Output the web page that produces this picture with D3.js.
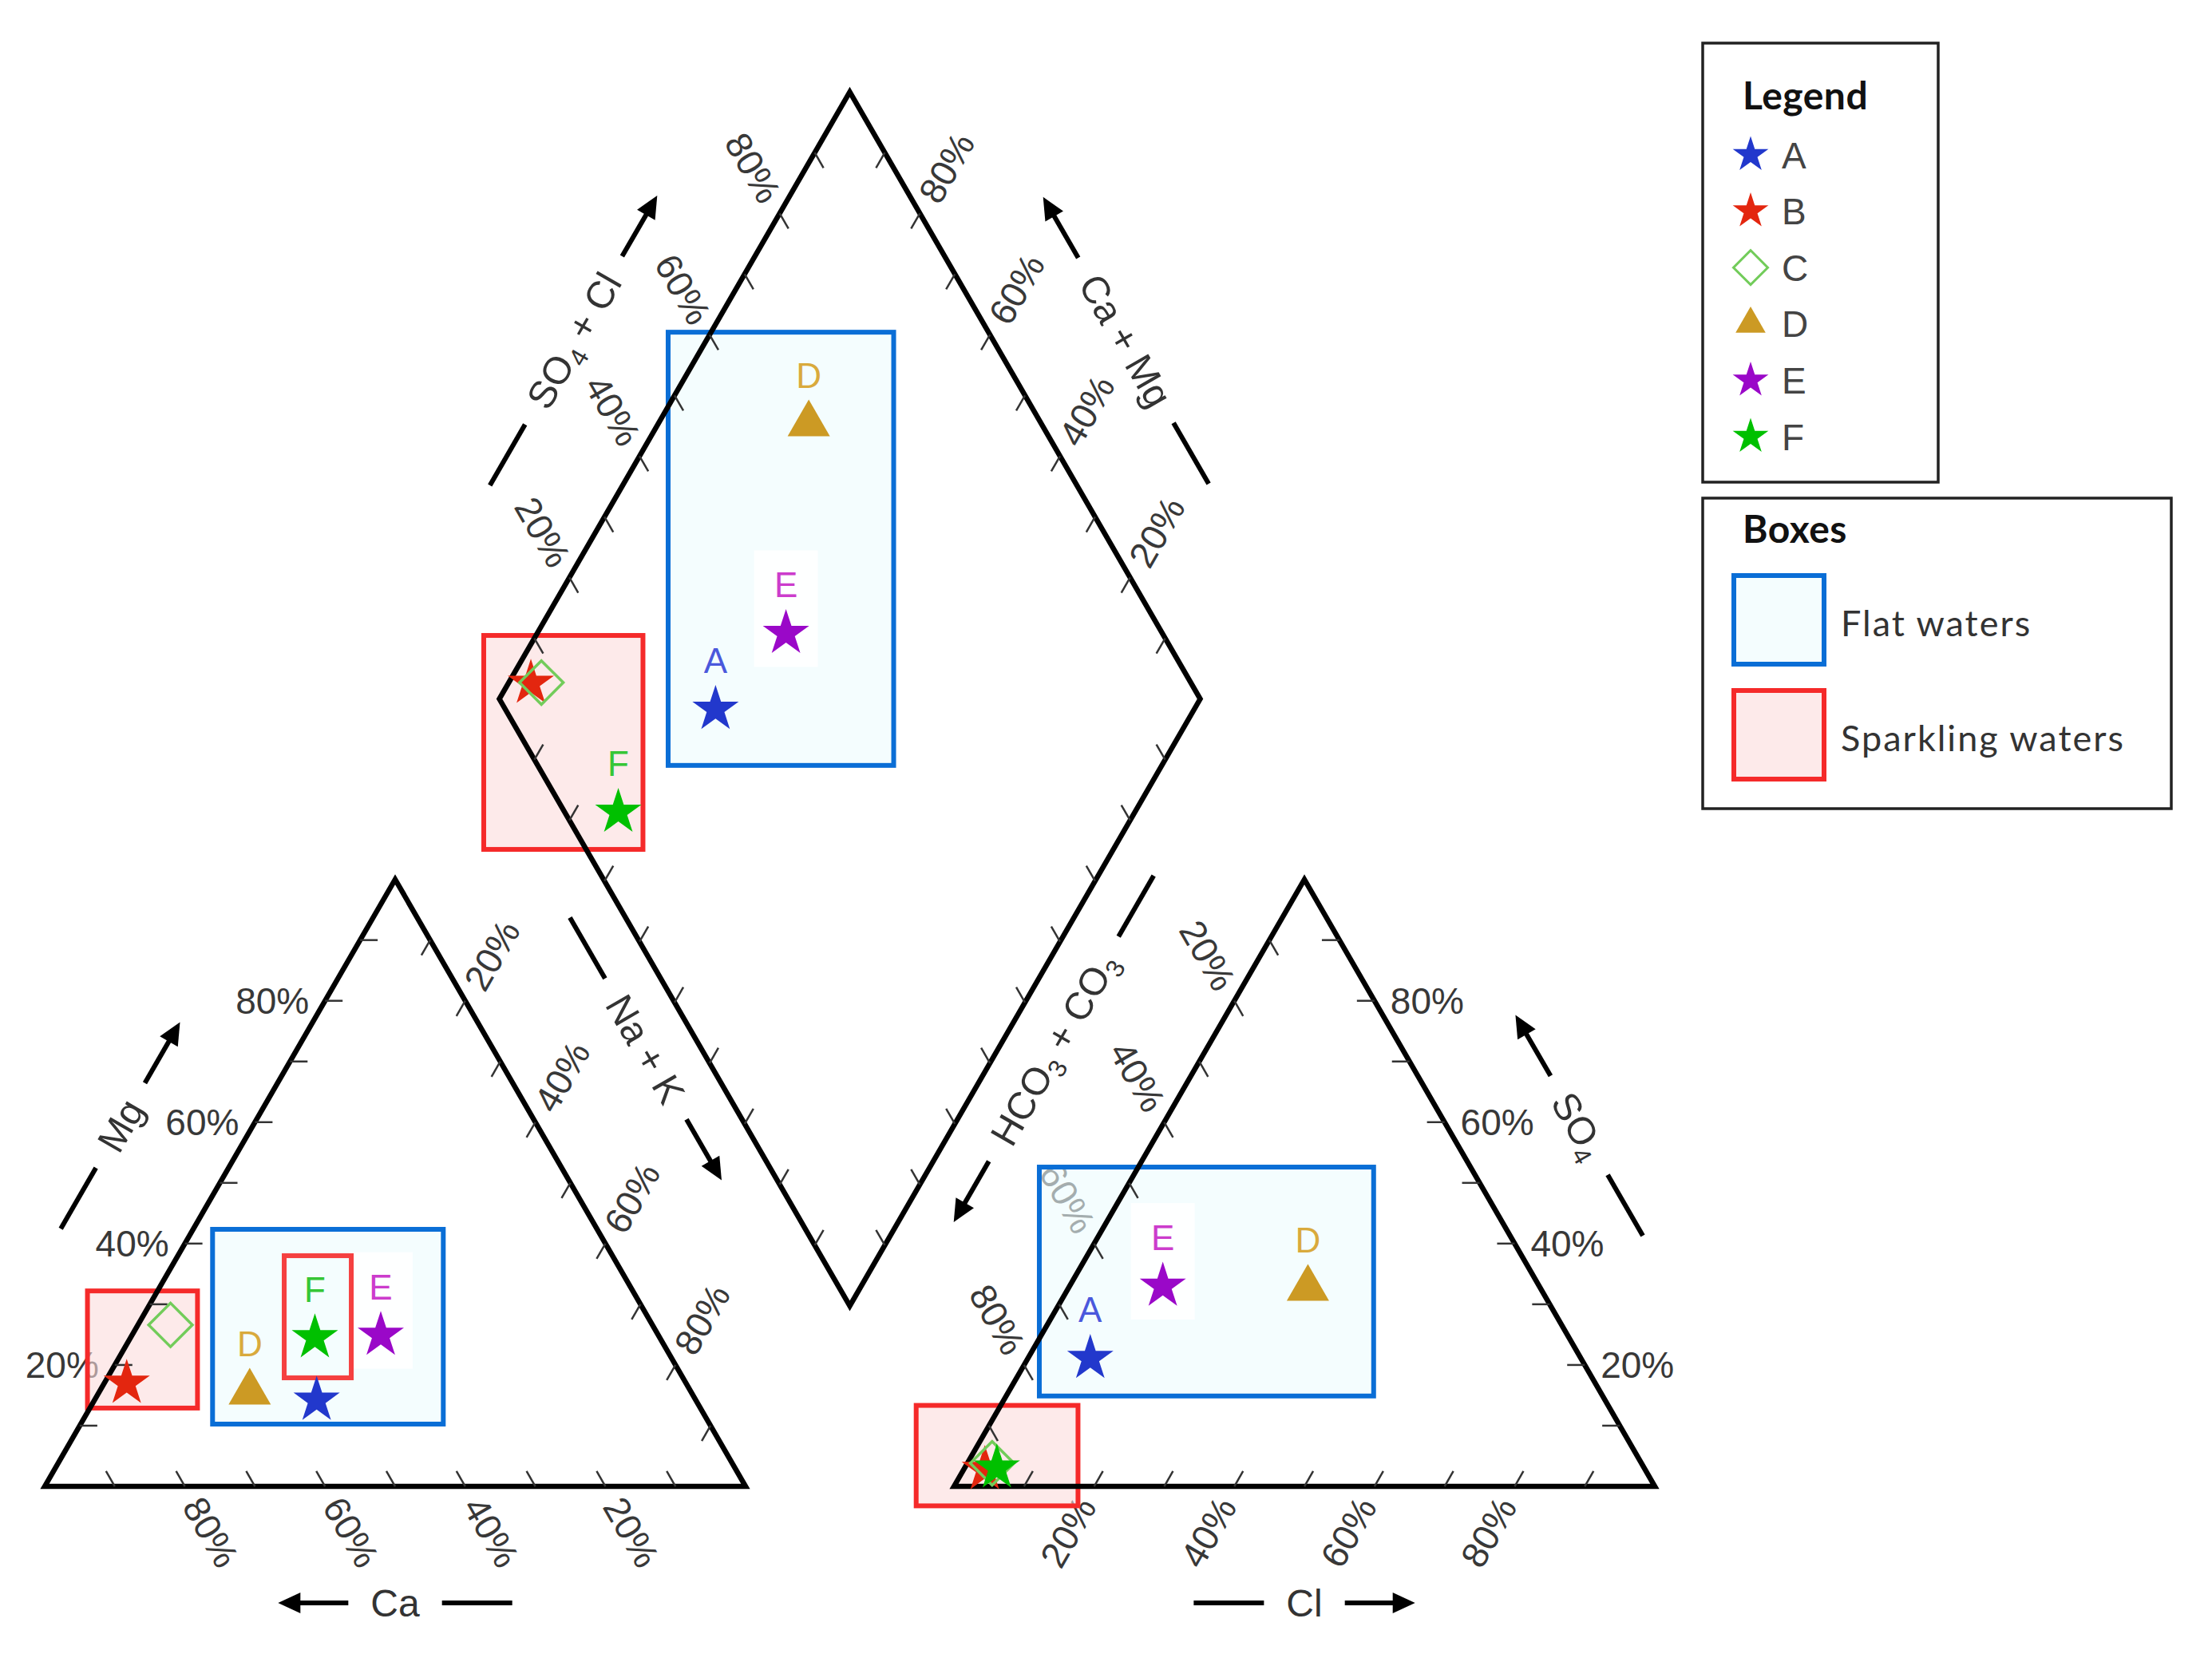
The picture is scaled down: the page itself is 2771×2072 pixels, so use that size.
<!DOCTYPE html>
<html><head><meta charset="utf-8">
<script src="https://cdn.jsdelivr.net/npm/d3@7"></script>
<style>html,body{margin:0;padding:0;background:#fff}</style>
</head><body>
<svg id="chart" width="2771" height="2072"></svg>
<script>
// ---------------- DATA ----------------
const samples = ["A", "B", "C", "D", "E", "F"];
// cations (% meq)
const ca  = [54.1, 79.8, 68.75, 63.0, 39.6, 49.2];
const mg  = [14.2, 17.0, 26.6, 15.5, 24.9, 24.5];
const nak = [31.7, 3.2, 4.65, 21.5, 35.5, 26.3];
// anions (% meq)
const hco3 = [70.0, 94.2, 92.65, 33.2, 53.7, 92.35];
const so4  = [21.1, 2.8, 3.8, 32.6, 33.0, 3.05];
const cl   = [8.9, 3.0, 3.55, 34.2, 13.3, 4.6];
// which samples carry a letter label in each plot
const labelsCation  = ["D", "E", "F"];
const labelsDiamond = ["A", "D", "E", "F"];
const labelsAnion   = ["A", "D", "E"];
// axis ticks
const tickValues  = [10, 20, 30, 40, 50, 60, 70, 80, 90];
const labelValues = [20, 40, 60, 80];
// grouping boxes: [uLeft, uRight, vBottom, vTop] in plot units, kind
const boxU0   = [0.2395, 0.061, 0.3417, 0.8895, 0.6264, 1.4191, 1.2434];
const boxU1   = [0.5687, 0.218, 0.4374, 1.2113, 0.8536, 1.8961, 1.4743];
const boxV0   = [0.1026, 0.129, 0.1788, 1.1878, 1.0494, 0.1489, -0.0321];
const boxV1   = [0.4235, 0.322, 0.3800, 1.9015, 1.4019, 0.5260, 0.1334];
const boxKind = ["flat", "sparkling", "outline", "flat", "sparkling", "flat", "sparkling"];
const legendBoxNames = ["Flat waters", "Sparkling waters"];

// ---------------- STYLE ----------------
const style = {
  A: {shape: "star", color: "#2238cc", label: "#4a58dc"},
  B: {shape: "star", color: "#e3260f", label: "#e3260f"},
  C: {shape: "diamond", color: "#72cc5a", label: "#72cc5a"},
  D: {shape: "triangle", color: "#cc9a24", label: "#d9aa3c"},
  E: {shape: "star", color: "#9a08c8", label: "#cc3ccc"},
  F: {shape: "star", color: "#00c000", label: "#36c636"}
};
const boxStyle = {
  flat: {stroke: "#0a6ed6", fill: "#edfbfd", op: 0.6},
  sparkling: {stroke: "#f52a2a", fill: "#fcdcdc", op: 0.6},
  outline: {stroke: "#f54040", fill: "none", op: 0}
};
const FONT = "'Liberation Sans', Arial, Helvetica, sans-serif";
const LFONT = "Lato, 'Open Sans', sans-serif";

// ---------------- GEOMETRY ----------------
const SQ3 = Math.sqrt(3);
const L = 878, H = L * SQ3 / 2, gr = 0.2973;
const x = d3.scaleLinear().domain([0, 1]).range([56, 56 + L]);
const y = d3.scaleLinear().domain([0, 1]).range([1862, 1862 - H]);
const px = uv => [x(uv[0]), y(uv[1])];

const V = {
  ca: [0, 0], mg: [0.5, 1], na: [1, 0],
  hco3: [1 + gr, 0], so4: [1.5 + gr, 1], cl: [2 + gr, 0],
  dB: [1 + gr / 2, gr], dL: [0.5 + gr / 2, 1 + gr], dT: [1 + gr / 2, 2 + gr], dR: [1.5 + gr / 2, 1 + gr]
};
const cationUV = i => [(nak[i] + mg[i] / 2) / 100, mg[i] / 100];
const anionUV = i => [1 + gr + (cl[i] + so4[i] / 2) / 100, so4[i] / 100];
const diamondUV = i => {
  const s = (ca[i] + mg[i]) / 100, t = (so4[i] + cl[i]) / 100;
  return [1 + gr / 2 + (t - s) / 2, gr + s + t];
};

const c6 = 0.5, s6 = SQ3 / 2;
const edges = [
  {from: V.ca, to: V.mg, ext: [-1, 0], labels: true},
  {from: V.na, to: V.ca, ext: [c6, s6], labels: true},
  {from: V.mg, to: V.na, ext: [c6, -s6], labels: true},
  {from: V.so4, to: V.hco3, ext: [-c6, -s6], labels: true},
  {from: V.hco3, to: V.cl, ext: [-c6, s6], labels: true},
  {from: V.cl, to: V.so4, ext: [1, 0], labels: true},
  {from: V.dL, to: V.dT, ext: [-c6, -s6], labels: true},
  {from: V.dR, to: V.dT, ext: [c6, -s6], labels: true},
  {from: V.dB, to: V.dL, ext: [-c6, s6], labels: false},
  {from: V.dB, to: V.dR, ext: [c6, s6], labels: false}
];
const edgePt = (e, v) => px([e.from[0] + (e.to[0] - e.from[0]) * v / 100, e.from[1] + (e.to[1] - e.from[1]) * v / 100]);

const svg = d3.select("#chart");
svg.append("rect").attr("width", 2771).attr("height", 2072).attr("fill", "#fff");

// ---------- tick labels ----------
const gLab = svg.append("g").attr("font-family", FONT).attr("font-size", 46).attr("fill", "#383838");
edges.filter(e => e.labels).forEach(e => {
  labelValues.forEach(v => {
    const p = edgePt(e, v);
    const cx = p[0] + e.ext[0] * 66, cy = p[1] + e.ext[1] * 66;
    let ang = Math.atan2(e.ext[1], e.ext[0]) * 180 / Math.PI;
    if (ang > 90) ang -= 180;
    if (ang < -90) ang += 180;
    gLab.append("text").attr("transform", `translate(${cx},${cy}) rotate(${ang})`)
      .attr("text-anchor", "middle").attr("dy", "0.36em").text(v + "%");
  });
});

// ---------- axis titles ----------
const titles = [
  {parts: [["Ca"]], u: 0.5, v: -0.192, rot: 0, arrow: "start"},
  {parts: [["Cl"]], u: 1.5 + gr, v: -0.192, rot: 0, arrow: "end"},
  {parts: [["Mg"]], u: 0.108, v: 0.5947, rot: -60, arrow: "end"},
  {parts: [["SO"], ["4", 1]], u: 1.75 + gr + 0.142, v: 0.5947, rot: 60, arrow: "start"},
  {parts: [["Na + K"]], u: 0.8576, v: 0.7207, rot: 60, arrow: "end"},
  {parts: [["HCO"], ["3", 1], [" + CO"], ["3", 1]], u: 1.4396, v: 0.7207, rot: -60, arrow: "start"},
  {parts: [["SO"], ["4", 1], [" + Cl"]], u: 0.7546, v: 1.888, rot: -60, arrow: "end"},
  {parts: [["Ca + Mg"]], u: 1.5426, v: 1.888, rot: 60, arrow: "start"}
];
const gT = svg.append("g").attr("font-family", FONT).attr("font-size", 48).attr("fill", "#333");
titles.forEach(t => {
  const g = gT.append("g").attr("transform", `translate(${x(t.u)},${y(t.v)}) rotate(${t.rot})`);
  const txt = g.append("text").attr("text-anchor", "middle").attr("dy", "0.36em");
  t.parts.forEach(pp => {
    const ts = txt.append("tspan").text(pp[0]);
    if (pp[1]) ts.attr("font-size", 32).attr("dy", 10);
    else if (txt.selectAll("tspan").size() > 1) ts.attr("dy", -10);
  });
  const hw = txt.node().getComputedTextLength() / 2;
  const gap = 28, len = 88, head = 28;
  const sgn = t.arrow === "end" ? 1 : -1;
  g.append("line").attr("x1", -sgn * (hw + gap)).attr("x2", -sgn * (hw + gap + len))
    .attr("y1", 0).attr("y2", 0).attr("stroke", "#000").attr("stroke-width", 6);
  g.append("line").attr("x1", sgn * (hw + gap)).attr("x2", sgn * (hw + gap + len - head + 2))
    .attr("y1", 0).attr("y2", 0).attr("stroke", "#000").attr("stroke-width", 6);
  const tip = sgn * (hw + gap + len), base = sgn * (hw + gap + len - head);
  g.append("path").attr("d", `M${tip},0L${base},-13L${base},13Z`).attr("fill", "#000");
});

// ---------- boxes ----------
const gBox = svg.append("g");
const gBoxTop = svg.append("g");
const plots = [
  {uv: cationUV, labels: labelsCation},
  {uv: diamondUV, labels: labelsDiamond},
  {uv: anionUV, labels: labelsAnion}
];
boxKind.forEach((k, i) => {
  const bs = boxStyle[k];
  const x0 = x(boxU0[i]), x1 = x(boxU1[i]), y0 = y(boxV1[i]), y1 = y(boxV0[i]);
  const target = k === "outline" ? null : gBox;
  (target || svg).append("rect").attr("class", "box-" + k).attr("x", x0).attr("y", y0)
    .attr("width", x1 - x0).attr("height", y1 - y0)
    .attr("fill", bs.fill).attr("fill-opacity", bs.op).attr("stroke", bs.stroke).attr("stroke-width", 6);
});
// white patches behind label E (drawn over box fill, under outline boxes)
plots.forEach(pl => {
  const i = samples.indexOf("E");
  const p = px(pl.uv(i));
  gBox.append("rect").attr("x", p[0] - 40).attr("y", p[1] - 104).attr("width", 80).attr("height", 146)
    .attr("fill", "#fff").attr("fill-opacity", 0.9);
});
// outline boxes above patches
svg.selectAll("rect.box-outline").raise();

// ---------- frames and ticks ----------
const gF = svg.append("g");
const poly = pts => "M" + pts.map(p => px(p).join(",")).join("L") + "Z";
[[V.ca, V.mg, V.na], [V.hco3, V.so4, V.cl], [V.dB, V.dL, V.dT, V.dR]].forEach(pts => {
  gF.append("path").attr("d", poly(pts)).attr("fill", "none").attr("stroke", "#000")
    .attr("stroke-width", 6.5).attr("stroke-linejoin", "miter");
});
edges.forEach(e => {
  tickValues.forEach(v => {
    const p = edgePt(e, v);
    gF.append("line").attr("x1", p[0]).attr("y1", p[1])
      .attr("x2", p[0] - e.ext[0] * 22).attr("y2", p[1] - e.ext[1] * 22)
      .attr("stroke", "#333").attr("stroke-width", 2.5);
  });
});

// ---------- markers ----------
const symPath = (shape, big) => {
  if (shape === "star") return d3.symbol().type(d3.symbolStar).size(big ? 1044 : 620)();
  if (shape === "triangle") return d3.symbol().type(d3.symbolTriangle).size(big ? 1216 : 612)();
  return d3.symbol().type(d3.symbolSquare).size(big ? 1500 : 925)();
};
const drawSym = (g, s, cx, cy, big) => {
  const st = style[s];
  const path = g.append("path").attr("d", symPath(st.shape, big));
  if (st.shape === "diamond") {
    path.attr("transform", `translate(${cx},${cy}) rotate(45)`).attr("fill", "none")
      .attr("stroke", st.color).attr("stroke-width", big ? 3.5 : 3);
  } else {
    path.attr("transform", `translate(${cx},${cy})`).attr("fill", st.color);
  }
};
const gM = svg.append("g");
plots.forEach(pl => {
  samples.forEach((s, i) => {
    const p = px(pl.uv(i));
    drawSym(gM, s, p[0], p[1], true);
  });
  samples.forEach((s, i) => {
    if (!pl.labels.includes(s)) return;
    const p = px(pl.uv(i));
    gM.append("text").attr("x", p[0]).attr("y", p[1] - 61).attr("dy", "0.36em")
      .attr("text-anchor", "middle").attr("font-family", FONT).attr("font-size", 44)
      .attr("fill", style[s].label).text(s);
  });
});

// ---------- legend ----------
const gL = svg.append("g");
gL.append("rect").attr("x", 2133).attr("y", 54).attr("width", 295).attr("height", 550)
  .attr("fill", "#fff").attr("stroke", "#222").attr("stroke-width", 3.5);
gL.append("text").attr("x", 2183).attr("y", 137).attr("font-family", LFONT).attr("font-weight", 700)
  .attr("font-size", 48).attr("fill", "#111").attr("letter-spacing", 0.5).text("Legend");
samples.forEach((s, i) => {
  const cy = 194 + i * 70.6;
  drawSym(gL, s, 2193, cy, false);
  gL.append("text").attr("x", 2232).attr("y", cy).attr("dy", "0.36em").attr("font-family", FONT)
    .attr("font-size", 46).attr("fill", "#444").text(s);
});
gL.append("rect").attr("x", 2133).attr("y", 624).attr("width", 587).attr("height", 389)
  .attr("fill", "#fff").attr("stroke", "#222").attr("stroke-width", 3.5);
gL.append("text").attr("x", 2183).attr("y", 680).attr("font-family", LFONT).attr("font-weight", 700)
  .attr("font-size", 48).attr("fill", "#111").attr("letter-spacing", 0.5).text("Boxes");
["flat", "sparkling"].forEach((k, i) => {
  const bs = boxStyle[k];
  const y0 = 721 + i * 144;
  gL.append("rect").attr("x", 2172).attr("y", y0).attr("width", 113).attr("height", 111)
    .attr("fill", bs.fill).attr("fill-opacity", bs.op).attr("stroke", bs.stroke).attr("stroke-width", 6);
  gL.append("text").attr("x", 2306).attr("y", y0 + 76).attr("font-family", LFONT)
    .attr("font-size", 45).attr("fill", "#333").attr("letter-spacing", 2).text(legendBoxNames[i]);
});
</script>
</body></html>
